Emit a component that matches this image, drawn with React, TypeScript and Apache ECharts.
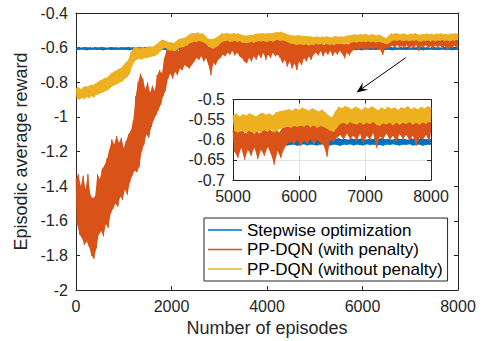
import React, { useEffect, useRef } from "react";
import * as echarts from "echarts";

// Sampling step of the arrays below (episodes). Each index i holds the upper (hi)
// and lower (lo) extent of the noisy curve read around episode i*STEP.
const STEP = 50;

const SERIES_NAMES = [
  "Stepwise optimization",
  "PP-DQN (with penalty)",
  "PP-DQN (without penalty)",
];

const MAIN_X_TICKS = [0, 2000, 4000, 6000, 8000];
const MAIN_Y_TICKS = [-2, -1.8, -1.6, -1.4, -1.2, -1, -0.8, -0.6, -0.4];
const INSET_X_TICKS = [5000, 6000, 7000, 8000];
const INSET_Y_TICKS = [-0.7, -0.65, -0.6, -0.55, -0.5];

const blueHi = [
  -0.599,-0.597,-0.600,-0.598,-0.596,-0.599,-0.598,-0.600,-0.597,-0.599,
  -0.598,-0.596,-0.599,-0.601,-0.598,-0.597,-0.599,-0.598,-0.600,-0.597,
  -0.599,-0.598,-0.596,-0.599,-0.598,-0.600,-0.597,-0.599,-0.598,-0.597,
  -0.600,-0.598,-0.599,-0.597,-0.598,-0.596,-0.599,-0.598,-0.600,-0.598,
  -0.597,-0.599,-0.598,-0.600,-0.597,-0.598,-0.599,-0.596,-0.598,-0.599,
  -0.598,-0.600,-0.597,-0.599,-0.598,-0.597,-0.599,-0.600,-0.598,-0.596,
  -0.599,-0.598,-0.597,-0.600,-0.598,-0.599,-0.597,-0.598,-0.600,-0.599,
  -0.597,-0.598,-0.599,-0.596,-0.598,-0.600,-0.597,-0.599,-0.598,-0.597,
  -0.599,-0.598,-0.600,-0.597,-0.599,-0.598,-0.596,-0.599,-0.598,-0.600,
  -0.598,-0.597,-0.599,-0.598,-0.600,-0.597,-0.598,-0.599,-0.597,-0.598,
  -0.600,-0.598,-0.597,-0.599,-0.598,-0.596,-0.599,-0.598,-0.600,-0.597,
  -0.599,-0.598,-0.597,-0.600,-0.598,-0.599,-0.597,-0.598,-0.599,-0.596,
  -0.598,-0.600,-0.597,-0.599,-0.598,-0.597,-0.599,-0.600,-0.598,-0.597,
  -0.599,-0.598,-0.596,-0.599,-0.598,-0.600,-0.597,-0.599,-0.598,-0.597,
  -0.600,-0.598,-0.599,-0.597,-0.598,-0.596,-0.599,-0.598,-0.600,-0.598,
  -0.597,-0.599,-0.598,-0.600,-0.597,-0.598,-0.599,-0.596,-0.598,-0.599,
  -0.598,
];
const blueLo = [
  -0.612,-0.614,-0.611,-0.613,-0.615,-0.612,-0.613,-0.611,-0.614,-0.612,
  -0.613,-0.615,-0.612,-0.611,-0.613,-0.614,-0.612,-0.613,-0.611,-0.614,
  -0.612,-0.613,-0.615,-0.612,-0.613,-0.611,-0.614,-0.612,-0.613,-0.614,
  -0.611,-0.613,-0.612,-0.614,-0.613,-0.615,-0.612,-0.613,-0.611,-0.613,
  -0.614,-0.612,-0.613,-0.611,-0.614,-0.613,-0.612,-0.615,-0.613,-0.612,
  -0.613,-0.611,-0.614,-0.612,-0.613,-0.614,-0.612,-0.611,-0.613,-0.615,
  -0.612,-0.613,-0.614,-0.611,-0.613,-0.612,-0.614,-0.613,-0.611,-0.612,
  -0.614,-0.613,-0.612,-0.615,-0.613,-0.611,-0.614,-0.612,-0.613,-0.614,
  -0.612,-0.613,-0.611,-0.614,-0.612,-0.613,-0.615,-0.612,-0.613,-0.611,
  -0.613,-0.614,-0.612,-0.613,-0.611,-0.614,-0.613,-0.612,-0.614,-0.613,
  -0.611,-0.613,-0.614,-0.612,-0.613,-0.615,-0.612,-0.613,-0.611,-0.614,
  -0.612,-0.613,-0.614,-0.611,-0.613,-0.612,-0.614,-0.613,-0.612,-0.615,
  -0.613,-0.611,-0.614,-0.612,-0.613,-0.614,-0.612,-0.611,-0.613,-0.614,
  -0.612,-0.613,-0.615,-0.612,-0.613,-0.611,-0.614,-0.612,-0.613,-0.614,
  -0.611,-0.613,-0.612,-0.614,-0.613,-0.615,-0.612,-0.613,-0.611,-0.613,
  -0.614,-0.612,-0.613,-0.611,-0.614,-0.613,-0.612,-0.615,-0.613,-0.612,
  -0.613,
];

const orangeHi = [
  -1.36,-1.33,-1.40,-1.34,-1.42,-1.33,-1.45,-1.47,-1.46,-1.33,
  -1.36,-1.30,-1.28,-1.24,-1.19,-1.13,-1.16,-1.11,-1.15,-1.12,
  -1.18,-1.14,-1.10,-1.08,-1.02,-0.88,-0.80,-0.75,-0.78,-0.84,
  -0.80,-0.86,-0.82,-0.85,-0.76,-0.73,-0.75,-0.66,-0.61,-0.60,
  -0.61,-0.62,-0.60,-0.62,-0.59,-0.60,-0.58,-0.57,-0.56,-0.555,
  -0.55,-0.55,-0.555,-0.56,-0.57,-0.58,-0.585,-0.58,-0.575,-0.57,
  -0.56,-0.55,-0.545,-0.55,-0.545,-0.55,-0.548,-0.55,-0.548,-0.555,
  -0.56,-0.565,-0.56,-0.555,-0.56,-0.555,-0.55,-0.552,-0.548,-0.55,
  -0.548,-0.552,-0.55,-0.548,-0.545,-0.55,-0.552,-0.558,-0.56,-0.565,
  -0.56,-0.565,-0.57,-0.565,-0.56,-0.565,-0.56,-0.565,-0.56,-0.57,
  -0.575,-0.57,-0.58,-0.575,-0.585,-0.57,-0.58,-0.575,-0.585,-0.572,
  -0.578,-0.574,-0.58,-0.575,-0.582,-0.57,-0.565,-0.558,-0.562,-0.555,
  -0.56,-0.555,-0.562,-0.558,-0.565,-0.556,-0.56,-0.566,-0.57,-0.565,
  -0.568,-0.555,-0.548,-0.545,-0.55,-0.545,-0.548,-0.542,-0.546,-0.55,
  -0.545,-0.548,-0.542,-0.546,-0.55,-0.544,-0.548,-0.543,-0.547,-0.542,
  -0.546,-0.544,-0.548,-0.543,-0.546,-0.542,-0.545,-0.54,-0.538,-0.535,
  -0.53,
];
const orangeLo = [
  -1.62,-1.68,-1.70,-1.74,-1.72,-1.75,-1.80,-1.82,-1.76,-1.68,
  -1.66,-1.69,-1.62,-1.64,-1.56,-1.53,-1.50,-1.52,-1.46,-1.48,
  -1.42,-1.45,-1.38,-1.34,-1.31,-1.32,-1.29,-1.20,-1.16,-1.10,
  -1.12,-1.06,-1.02,-0.99,-0.96,-0.93,-0.88,-0.85,-0.78,-0.75,
  -0.78,-0.74,-0.76,-0.72,-0.73,-0.70,-0.71,-0.72,-0.70,-0.68,
  -0.66,-0.67,-0.65,-0.68,-0.66,-0.70,-0.76,-0.69,-0.70,-0.67,
  -0.66,-0.64,-0.65,-0.63,-0.64,-0.62,-0.645,-0.63,-0.65,-0.66,
  -0.68,-0.69,-0.66,-0.68,-0.65,-0.67,-0.64,-0.66,-0.63,-0.67,
  -0.64,-0.66,-0.63,-0.65,-0.64,-0.66,-0.69,-0.67,-0.71,-0.68,
  -0.72,-0.69,-0.73,-0.68,-0.70,-0.66,-0.68,-0.65,-0.67,-0.64,
  -0.63,-0.645,-0.62,-0.65,-0.625,-0.64,-0.62,-0.648,-0.625,-0.64,
  -0.618,-0.635,-0.662,-0.628,-0.645,-0.622,-0.61,-0.605,-0.61,-0.60,
  -0.615,-0.602,-0.61,-0.598,-0.612,-0.60,-0.608,-0.614,-0.642,-0.60,
  -0.605,-0.595,-0.588,-0.60,-0.585,-0.598,-0.59,-0.602,-0.585,-0.61,
  -0.59,-0.60,-0.583,-0.62,-0.592,-0.598,-0.585,-0.60,-0.59,-0.605,
  -0.586,-0.598,-0.588,-0.602,-0.59,-0.615,-0.595,-0.60,-0.588,-0.605,
  -0.58,
];

const yellowHi = [
  -0.835,-0.828,-0.840,-0.830,-0.822,-0.826,-0.815,-0.818,-0.808,-0.800,
  -0.790,-0.785,-0.775,-0.772,-0.760,-0.745,-0.738,-0.732,-0.722,-0.716,
  -0.700,-0.685,-0.668,-0.625,-0.605,-0.598,-0.600,-0.605,-0.598,-0.602,
  -0.595,-0.592,-0.596,-0.588,-0.578,-0.565,-0.555,-0.558,-0.565,-0.570,
  -0.568,-0.575,-0.562,-0.552,-0.548,-0.545,-0.540,-0.528,-0.520,-0.515,
  -0.518,-0.512,-0.520,-0.516,-0.530,-0.545,-0.552,-0.550,-0.548,-0.540,
  -0.528,-0.518,-0.520,-0.515,-0.518,-0.522,-0.516,-0.520,-0.518,-0.524,
  -0.528,-0.532,-0.530,-0.526,-0.528,-0.522,-0.518,-0.520,-0.516,-0.520,
  -0.518,-0.515,-0.519,-0.514,-0.510,-0.512,-0.508,-0.515,-0.520,-0.525,
  -0.528,-0.530,-0.532,-0.528,-0.530,-0.535,-0.532,-0.536,-0.534,-0.538,
  -0.540,-0.535,-0.542,-0.536,-0.540,-0.534,-0.538,-0.542,-0.536,-0.533,
  -0.538,-0.535,-0.540,-0.532,-0.530,-0.528,-0.526,-0.524,-0.528,-0.522,
  -0.526,-0.520,-0.524,-0.528,-0.522,-0.526,-0.530,-0.525,-0.532,-0.540,
  -0.545,-0.530,-0.518,-0.522,-0.516,-0.520,-0.524,-0.518,-0.521,-0.526,
  -0.519,-0.523,-0.517,-0.522,-0.527,-0.520,-0.524,-0.518,-0.523,-0.520,
  -0.526,-0.519,-0.522,-0.517,-0.524,-0.520,-0.525,-0.518,-0.522,-0.517,
  -0.520,
];
const yellowLo = [
  -0.895,-0.900,-0.890,-0.898,-0.885,-0.892,-0.880,-0.888,-0.872,-0.870,
  -0.862,-0.858,-0.850,-0.845,-0.830,-0.822,-0.815,-0.808,-0.800,-0.795,
  -0.778,-0.770,-0.752,-0.705,-0.680,-0.670,-0.665,-0.668,-0.660,-0.662,
  -0.655,-0.652,-0.650,-0.645,-0.635,-0.620,-0.605,-0.600,-0.612,-0.618,
  -0.615,-0.620,-0.610,-0.600,-0.598,-0.590,-0.588,-0.575,-0.570,-0.565,
  -0.568,-0.560,-0.565,-0.570,-0.578,-0.595,-0.600,-0.605,-0.598,-0.590,
  -0.575,-0.565,-0.562,-0.560,-0.566,-0.565,-0.560,-0.568,-0.562,-0.570,
  -0.572,-0.575,-0.570,-0.568,-0.572,-0.566,-0.562,-0.565,-0.560,-0.568,
  -0.564,-0.560,-0.566,-0.558,-0.556,-0.560,-0.558,-0.562,-0.568,-0.575,
  -0.578,-0.580,-0.585,-0.580,-0.582,-0.585,-0.580,-0.588,-0.582,-0.585,
  -0.578,-0.582,-0.575,-0.584,-0.578,-0.580,-0.586,-0.578,-0.582,-0.576,
  -0.580,-0.574,-0.582,-0.576,-0.572,-0.570,-0.568,-0.570,-0.566,-0.568,
  -0.565,-0.567,-0.563,-0.569,-0.564,-0.570,-0.566,-0.568,-0.572,-0.578,
  -0.580,-0.570,-0.560,-0.558,-0.562,-0.556,-0.560,-0.562,-0.557,-0.563,
  -0.558,-0.561,-0.556,-0.563,-0.565,-0.559,-0.562,-0.558,-0.564,-0.557,
  -0.563,-0.558,-0.561,-0.556,-0.562,-0.558,-0.563,-0.557,-0.560,-0.555,
  -0.558,
];

const COLORS = ["#0072BD", "#D95319", "#EDB120"];
const FONT = "'Liberation Sans', Arial, Helvetica, sans-serif";
const AX = "#262626";

function band(hi: number[], lo: number[], from = 0): number[][] {
  const pts: number[][] = [];
  for (let i = 0; i < hi.length; i++) {
    const ep = i * STEP;
    if (ep < from) continue;
    pts.push([ep, hi[i]]);
    if (ep + STEP / 2 <= 8000) pts.push([ep + STEP / 2, lo[i]]);
  }
  return pts;
}

// Filled envelope between the hi and lo readings, drawn through the axes' scales.
function envelopeSeries(name: string, hi: number[], lo: number[], color: string,
                        xAxisIndex: number, yAxisIndex: number, from: number, z: number) {
  const upper: number[][] = [];
  const lower: number[][] = [];
  for (let i = 0; i < hi.length; i++) {
    const ep = i * STEP;
    if (ep < from) continue;
    upper.push([ep, hi[i]]);
    lower.push([Math.min(ep + STEP / 2, 8000), lo[i]]);
  }
  return {
    name, type: "custom", coordinateSystem: "cartesian2d", xAxisIndex, yAxisIndex, z,
    data: [upper[0]], silent: true,
    renderItem: (_p: any, api: any) => {
      const pts: number[][] = [];
      for (const d of upper) pts.push(api.coord(d));
      for (let j = lower.length - 1; j >= 0; j--) pts.push(api.coord(lower[j]));
      return { type: "polygon", shape: { points: pts }, style: { fill: color, stroke: "none" } };
    },
  };
}

const fmt = (v: number) => String(parseFloat(v.toFixed(3)));

function boxAxes(grid: number, xt: number[], yt: number[], showGrid: boolean) {
  const xInt = xt[1] - xt[0];
  const yInt = parseFloat((yt[1] - yt[0]).toFixed(3));
  const line = { show: true, onZero: false, lineStyle: { color: AX, width: 1 } };
  const tick = { show: true, inside: true, length: 4, lineStyle: { color: AX, width: 1 } };
  const split = { show: showGrid, lineStyle: { color: "#e3e3e3", width: 1 } };
  const label = { fontSize: 16, color: AX, fontFamily: FONT, margin: 8, formatter: fmt };
  const xs = [
    { gridIndex: grid, type: "value", position: "bottom", min: xt[0], max: xt[xt.length - 1], interval: xInt,
      axisLine: line, axisTick: tick, axisLabel: label, splitLine: split },
    { gridIndex: grid, type: "value", position: "top", min: xt[0], max: xt[xt.length - 1], interval: xInt,
      axisLine: line, axisTick: tick, axisLabel: { show: false }, splitLine: { show: false } },
  ];
  const ys = [
    { gridIndex: grid, type: "value", position: "left", min: yt[0], max: yt[yt.length - 1], interval: yInt,
      axisLine: line, axisTick: tick, axisLabel: label, splitLine: split },
    { gridIndex: grid, type: "value", position: "right", min: yt[0], max: yt[yt.length - 1], interval: yInt,
      axisLine: line, axisTick: tick, axisLabel: { show: false }, splitLine: { show: false } },
  ];
  return { xs, ys };
}

export default function App() {
  const ref = useRef<HTMLDivElement>(null);
  useEffect(() => {
    if (!ref.current) return;
    const chart = echarts.init(ref.current, undefined, { renderer: "svg" });
    const main = boxAxes(0, MAIN_X_TICKS, MAIN_Y_TICKS, false);
    const inset = boxAxes(1, INSET_X_TICKS, INSET_Y_TICKS, true);
    Object.assign(main.xs[0], {
      name: "Number of episodes", nameLocation: "middle", nameGap: 28,
      nameTextStyle: { fontSize: 18, color: AX, fontFamily: FONT },
    });
    Object.assign(main.ys[0], {
      name: "Episodic average reward", nameLocation: "middle", nameRotate: 90, nameGap: 41,
      nameTextStyle: { fontSize: 18, color: AX, fontFamily: FONT },
    });

    const his = [blueHi, orangeHi, yellowHi];
    const los = [blueLo, orangeLo, yellowLo];
    const series: any[] = [];
    const grids = [
      { x: 0, y: 0, from: 0 },
      { x: 2, y: 2, from: 5000 },
    ];
    for (const g of grids) {
      for (let k = 0; k < 3; k++) {
        series.push(envelopeSeries(SERIES_NAMES[k] + " envelope", his[k], los[k], COLORS[k], g.x, g.y, g.from, 2 + 2 * k));
        series.push({
          name: SERIES_NAMES[k], type: "line", xAxisIndex: g.x, yAxisIndex: g.y,
          data: band(his[k], los[k], g.from), symbol: "none", z: 3 + 2 * k,
          lineStyle: { color: COLORS[k], width: 0.8 }, itemStyle: { color: COLORS[k] },
        });
      }
    }

    chart.setOption({
      animation: false,
      textStyle: { fontFamily: FONT },
      grid: [
        { left: 76, top: 13, width: 382, height: 277, containLabel: false, outerBoundsMode: "none" },
        { left: 233, top: 99.5, width: 198, height: 80.5, containLabel: false, outerBoundsMode: "none" },
      ],
      xAxis: [...main.xs, ...inset.xs],
      yAxis: [...main.ys, ...inset.ys],
      legend: {
        orient: "vertical", left: 204, top: 218, data: SERIES_NAMES, icon: "rect",
        itemWidth: 34, itemHeight: 1.5, itemGap: 2.5, padding: [3.5, 5, 3.5, 4],
        backgroundColor: "#fff", borderColor: AX, borderWidth: 1, selectedMode: false,
        textStyle: { fontSize: 17, lineHeight: 17, color: "#000", fontFamily: FONT },
      },
      graphic: [
        { type: "line", shape: { x1: 405.7, y1: 57.7, x2: 362.2, y2: 88.4 }, style: { stroke: "#000", lineWidth: 1 } },
        { type: "polygon", shape: { points: [[356.5, 92.5], [368.1, 89.8], [362.2, 88.4], [362.8, 82.4]] }, style: { fill: "#000" } },
      ],
      series,
    });
    return () => chart.dispose();
  }, []);
  return <div ref={ref} style={{ position: "fixed", left: 0, top: 0, width: 483, height: 341, background: "#fff" }} />;
}
